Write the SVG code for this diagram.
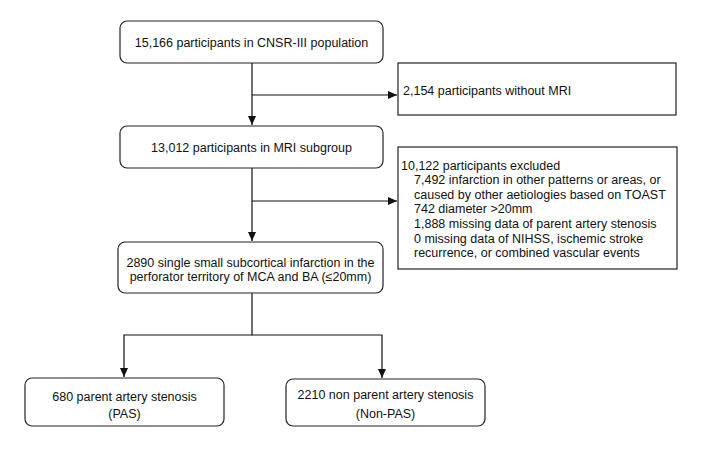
<svg xmlns="http://www.w3.org/2000/svg" width="708" height="450" viewBox="0 0 708 450">
<style>
.box{fill:#fff;stroke:#222;stroke-width:1.2}
.t{font-family:"Liberation Sans",Arial,sans-serif;font-size:12.5px;fill:#111}
.c{text-anchor:middle}
.ln{fill:none;stroke:#111;stroke-width:1.2}
</style>
<defs>
<marker id="ah" markerWidth="10" markerHeight="10" refX="9" refY="5" orient="auto" markerUnits="userSpaceOnUse">
<path d="M0,1 L9,5 L0,9 Z" fill="#111"/>
</marker>
</defs>
<rect width="708" height="450" fill="#fff"/>
<g id="connectors">
<path class="ln" d="M252,63 V125" marker-end="url(#ah)"/>
<path class="ln" d="M252,95 H397" marker-end="url(#ah)"/>
<path class="ln" d="M252,168 V241" marker-end="url(#ah)"/>
<path class="ln" d="M252,201 H397" marker-end="url(#ah)"/>
<path class="ln" d="M252,293 V335 H124 V377" marker-end="url(#ah)"/>
<path class="ln" d="M252,335 H382 V378" marker-end="url(#ah)"/>
</g>
<g id="n1">
<rect class="box" x="120" y="21" width="263" height="42" rx="7"/>
<text class="t c" x="251.5" y="46.5">15,166 participants in CNSR-III population</text>
</g>
<g id="n2">
<rect class="box" x="398" y="63" width="278" height="52"/>
<text class="t" x="403" y="94.5">2,154 participants without MRI</text>
</g>
<g id="n3">
<rect class="box" x="120" y="126" width="263" height="42" rx="7"/>
<text class="t c" x="251.5" y="151.5">13,012 participants in MRI subgroup</text>
</g>
<g id="n4">
<rect class="box" x="398" y="147" width="279" height="122"/>
<text class="t" x="401" y="169.5">10,122 participants excluded</text>
<text class="t" x="414" y="184">7,492 infarction in other patterns or areas, or</text>
<text class="t" x="414" y="198.5">caused by other aetiologies based on TOAST</text>
<text class="t" x="414" y="213">742 diameter &gt;20mm</text>
<text class="t" x="414" y="228">1,888 missing data of parent artery stenosis</text>
<text class="t" x="414" y="242.5">0 missing data of NIHSS, ischemic stroke</text>
<text class="t" x="414" y="257">recurrence, or combined vascular events</text>
</g>
<g id="n5">
<rect class="box" x="118" y="242" width="265" height="51" rx="7"/>
<text class="t c" x="250.5" y="266.5">2890 single small subcortical infarction in the</text>
<text class="t c" x="250.5" y="280.5">perforator territory of MCA and BA (≤20mm)</text>
</g>
<g id="n6">
<rect class="box" x="25" y="378" width="199" height="48" rx="7"/>
<text class="t c" x="124.5" y="400.5">680 parent artery stenosis</text>
<text class="t c" x="124.5" y="417.5">(PAS)</text>
</g>
<g id="n7">
<rect class="box" x="286" y="379" width="199" height="47" rx="7"/>
<text class="t c" x="385.5" y="399">2210 non parent artery stenosis</text>
<text class="t c" x="385.5" y="417.5">(Non-PAS)</text>
</g>
</svg>
